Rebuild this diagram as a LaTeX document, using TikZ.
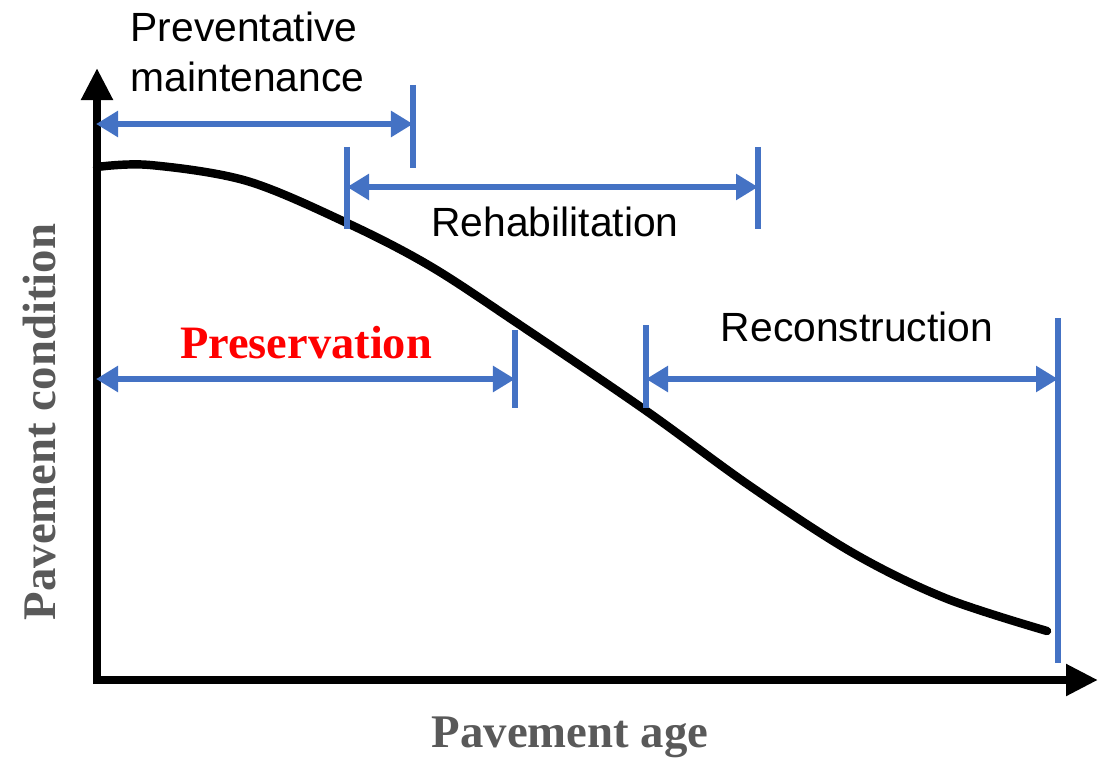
\documentclass[tikz,border=0pt]{standalone}
\usepackage{fontspec}
\setmainfont{Liberation Serif}
\setsansfont{Liberation Sans}
\usepackage{xcolor}
\usetikzlibrary{arrows.meta,positioning,calc}
\definecolor{spanblue}{HTML}{4472C4}
\definecolor{axisgray}{HTML}{595959}
\newcommand{\lbl}{\sffamily\fontsize{11.6}{14.2}\selectfont}
\newcommand{\axlbl}{\rmfamily\bfseries\fontsize{13.3}{16}\selectfont}

\begin{document}
\begin{tikzpicture}[x=0.01cm,y=-0.01cm,
    axisline/.style={line width=2.5pt,-{Triangle[length=0.32cm,width=0.3cm]}},
    span/.style={spanblue,line width=1.7pt,{Triangle[length=0.22cm,width=0.25cm]}-{Triangle[length=0.22cm,width=0.25cm]}},
    endbar/.style={spanblue,line width=1.7pt}]
  \useasboundingbox (0,0) rectangle (1104,758);

  % Axes
  \draw[axisline] (97,684) -- (97,68);
  \draw[axisline] (93,680) -- (1098,680);
  \node[rotate=90,text=axisgray,font=\axlbl] (ylab) at (40,422) {Pavement condition};
  \node[text=axisgray,font=\axlbl] (xlab) at (570,737) {Pavement age};

  % Condition curve
  \draw[line width=2.4pt,line cap=round] plot[smooth,tension=0.55] coordinates {
    (97,167) (150,165) (247,181) (347,223) (430,266) (520,325)
    (645,410) (750,486) (853,553) (945,598) (1047,631)};

  % Preventative maintenance
  \draw[endbar] (413,85) -- (413,168);
  \draw[span] (96,124) -- (413,124);
  \node[font=\lbl,align=left,anchor=west,inner sep=0] (pm) at (130,52) {Preventative\\maintenance};

  % Rehabilitation
  \draw[endbar] (347,147) -- (347,229);
  \draw[endbar] (758,147) -- (758,229);
  \draw[span] (347,187) -- (758,187);
  \node[font=\lbl] (rehab) at (555,222) {Rehabilitation};

  % Preservation
  \draw[endbar] (515,330) -- (515,408);
  \draw[span] (96,379) -- (515,379);
  \node[text=red,font=\rmfamily\bfseries\fontsize{13.2}{16}\selectfont] (pres) at (306,343) {Preservation};

  % Reconstruction
  \draw[endbar] (646,325) -- (646,408);
  \draw[endbar] (1058,318) -- (1058,663);
  \draw[span] (646,379) -- (1058,379);
  \node[font=\lbl] (recon) at (857,327) {Reconstruction};
\end{tikzpicture}
\end{document}
